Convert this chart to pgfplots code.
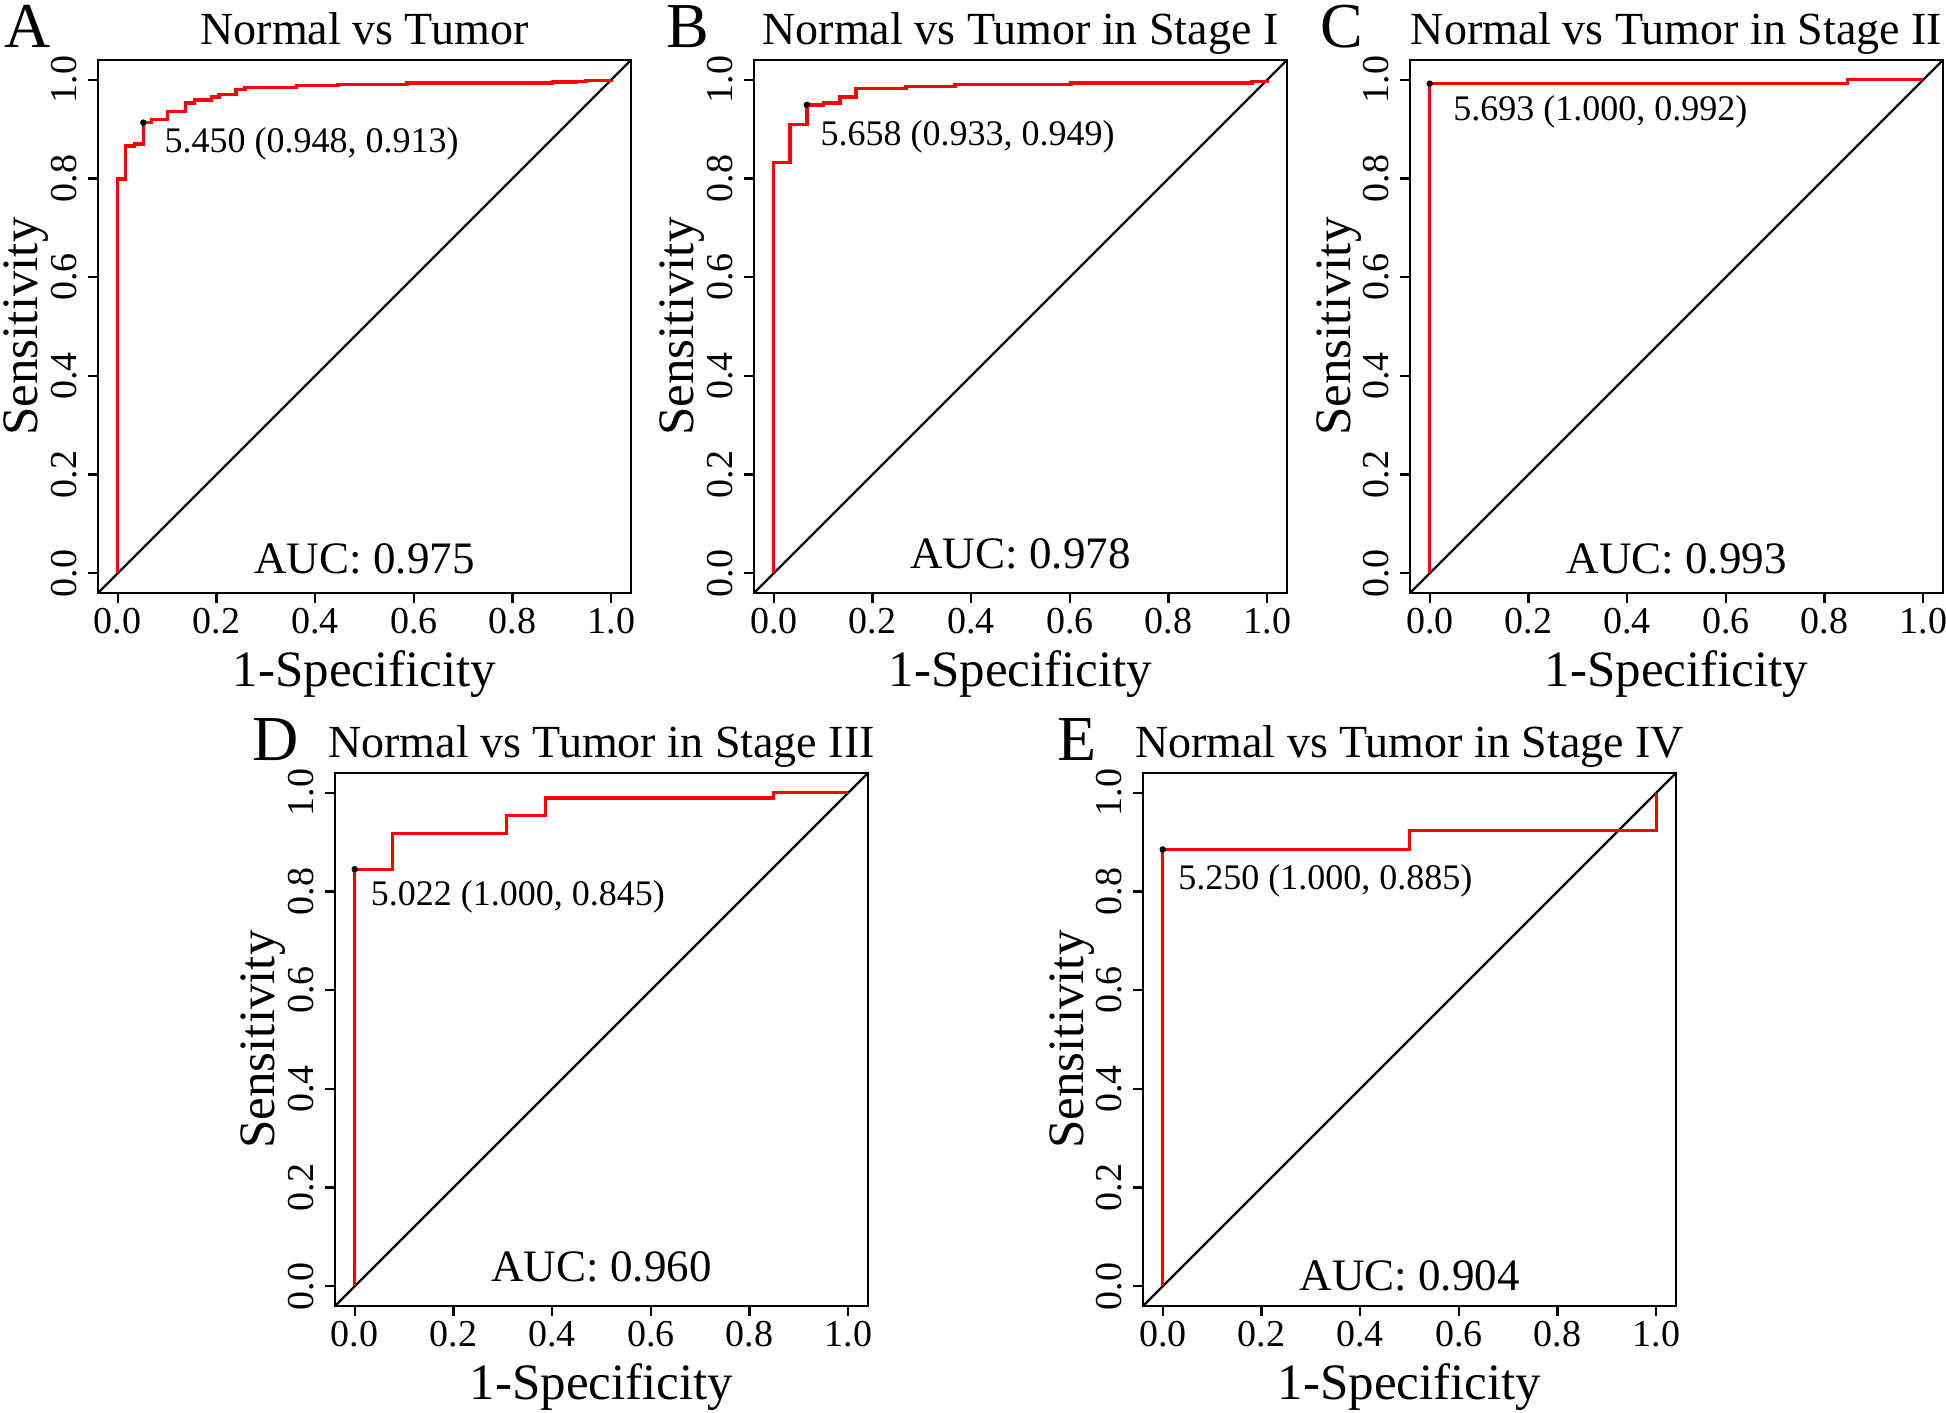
\documentclass[border=0pt]{standalone}
\usepackage{fontspec}
\setmainfont{Liberation Serif}
\usepackage{pgfplots}
\pgfplotsset{compat=1.18}

\definecolor{rocred}{RGB}{255,0,0}

% 1 px of the reference = 0.5pt
\pgfplotsset{
  roc/.style={
    width=266.5pt, height=266.5pt, scale only axis,
    anchor=south west,
    xmin=-0.04, xmax=1.04, ymin=-0.04, ymax=1.04,
    xtick={0,0.2,0.4,0.6,0.8,1}, ytick={0,0.2,0.4,0.6,0.8,1},
    xtick pos=left, ytick pos=left,
    tick align=outside, major tick length=5pt,
    axis line style={line width=1.4pt},
    major tick style={black, line width=1.2pt},
    tick label style={font=\fontsize{19}{22}\selectfont},
    xticklabel style={anchor=north, inner sep=0pt},
    yticklabel style={rotate=90, anchor=south, inner sep=0pt},
    xticklabel shift=2.5pt, yticklabel shift=5.5pt,
    /pgf/number format/fixed, /pgf/number format/fixed zerofill,
    /pgf/number format/precision=1, /pgf/number format/assume math mode=true,
    xlabel={1-Specificity}, ylabel={Sensitivity},
    label style={font=\fontsize{25.5}{28}\selectfont},
    xlabel style={at={(axis description cs:0.5,-0.1745)}, anchor=base},
    ylabel style={at={(axis description cs:-0.1126,0.5)}, anchor=base},
    title style={at={(axis description cs:0.5,1.007)}, anchor=base, yshift=0pt,
      font=\fontsize{23}{26}\selectfont},
    clip=false,
  },
  rocline/.style={color=rocred, line width=1.7pt, const plot},
  diag/.style={black, line width=1.2pt},
  thr/.style={only marks, mark=*, mark size=1.4pt, black},
}
\newcommand{\letterfont}{\fontsize{32}{36}\selectfont}
\newcommand{\annfont}{\fontsize{18}{20}\selectfont}
\newcommand{\aucfont}{\fontsize{22.5}{26}\selectfont}
\tikzset{ann/.style={anchor=base west, inner sep=0pt, font=\annfont},
  auc/.style={anchor=base, inner sep=0pt, font=\aucfont},
  letter/.style={anchor=base west, inner sep=0pt, font=\letterfont}}

\begin{document}
\begin{tikzpicture}
\useasboundingbox (0,0) rectangle (973pt,706pt);

% A
\begin{axis}[roc, at={(49pt,409.5pt)}, title={Normal vs Tumor}]
  \addplot[diag] coordinates {(-0.04,-0.04) (1.04,1.04)};
  \addplot[rocline] coordinates {
    (0,0) (0,0.799) (0.016,0.866) (0.034,0.870) (0.052,0.913) (0.068,0.920)
    (0.101,0.936) (0.137,0.953) (0.155,0.959) (0.190,0.965) (0.205,0.970)
    (0.240,0.980) (0.258,0.984) (0.362,0.988) (0.446,0.990) (0.586,0.993)
    (0.881,0.995) (0.929,0.997) (0.949,0.998) (1,1)
  };
  \addplot[thr] coordinates {(0.052,0.913)};
  \node[ann] at (axis cs:0.094,0.852) {5.450 (0.948, 0.913)};
  \node[auc] at (axis cs:0.5,0) {AUC: 0.975};
  \node[letter] at (rel axis cs:-0.176,1.023) {A};
\end{axis}

% B
\begin{axis}[roc, at={(377pt,409.5pt)}, title={Normal vs Tumor in Stage I}]
  \addplot[diag] coordinates {(-0.04,-0.04) (1.04,1.04)};
  \addplot[rocline] coordinates {
    (0,0) (0,0.832) (0.033,0.909) (0.067,0.949) (0.101,0.953) (0.134,0.965)
    (0.167,0.982) (0.268,0.986) (0.367,0.990) (0.602,0.993) (0.969,0.997) (1,1)
  };
  \addplot[thr] coordinates {(0.067,0.949)};
  \node[ann] at (axis cs:0.094,0.866) {5.658 (0.933, 0.949)};
  \node[auc] at (axis cs:0.5,0.01) {AUC: 0.978};
  \node[letter] at (rel axis cs:-0.165,1.023) {B};
\end{axis}

% C
\begin{axis}[roc, at={(705pt,409.5pt)}, title={Normal vs Tumor in Stage II}]
  \addplot[diag] coordinates {(-0.04,-0.04) (1.04,1.04)};
  \addplot[rocline] coordinates {(0,0) (0,0.992) (0.846,1) (1,1)};
  \addplot[thr] coordinates {(0,0.992)};
  \node[ann] at (axis cs:0.047,0.917) {5.693 (1.000, 0.992)};
  \node[auc] at (axis cs:0.5,0) {AUC: 0.993};
  \node[letter] at (rel axis cs:-0.169,1.023) {C};
\end{axis}

% D
\begin{axis}[roc, at={(167.5pt,53pt)}, title={Normal vs Tumor in Stage III}]
  \addplot[diag] coordinates {(-0.04,-0.04) (1.04,1.04)};
  \addplot[rocline] coordinates {
    (0,0) (0,0.845) (0.077,0.918) (0.308,0.954) (0.386,0.989) (0.848,1) (1,1)
  };
  \addplot[thr] coordinates {(0,0.845)};
  \node[ann] at (axis cs:0.032,0.772) {5.022 (1.000, 0.845)};
  \node[auc] at (axis cs:0.5,0.01) {AUC: 0.960};
  \node[letter] at (rel axis cs:-0.156,1.023) {D};
\end{axis}

% E
\begin{axis}[roc, at={(571.5pt,53pt)}, title={Normal vs Tumor in Stage IV}]
  \addplot[diag] coordinates {(-0.04,-0.04) (1.04,1.04)};
  \addplot[rocline] coordinates {(0,0) (0,0.885) (0.5,0.923) (1,1)};
  \addplot[thr] coordinates {(0,0.885)};
  \node[ann] at (axis cs:0.031,0.803) {5.250 (1.000, 0.885)};
  \node[auc] at (axis cs:0.5,-0.008) {AUC: 0.904};
  \node[letter] at (rel axis cs:-0.161,1.023) {E};
\end{axis}
\end{tikzpicture}
\end{document}
